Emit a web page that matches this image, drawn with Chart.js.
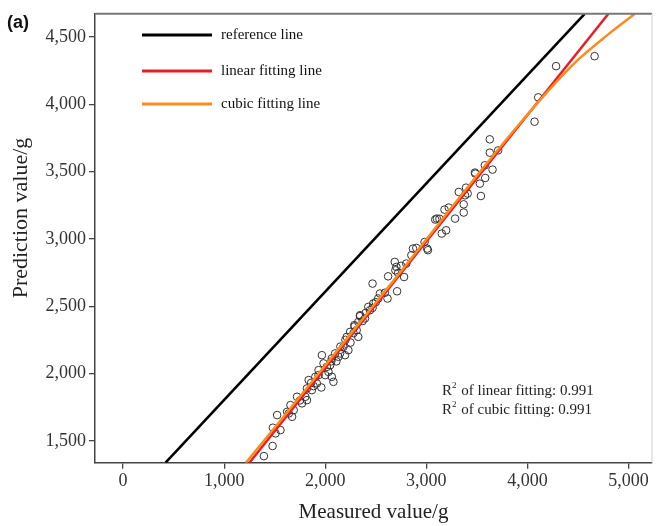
<!DOCTYPE html>
<html><head><meta charset="utf-8">
<script src="https://cdn.jsdelivr.net/npm/chart.js@4.4.1/dist/chart.umd.min.js"></script>
<style>html,body{margin:0;padding:0;background:#fff;}#wrap{width:657px;height:526px;position:relative;}</style>
</head><body><div id="wrap"><canvas id="c" width="657" height="526"></canvas></div>
<script>
// ---- data ----
const measuredValues = [1393,1479,1482,1508,1524,1557,1623,1639,1656,1672,1688,1721,1770,1803,1819,1819,1836,1868,1885,1902,
  1917,1934,1934,1961,1967,1983,2000,2016,2032,2049,2065,2065,2081,2098,2131,2147,2180,2196,2213,2229,
  2246,2288,2311,2327,2327,2344,2344,2393,2426,2442,2468,2468,2475,2524,2541,2616,2622,2688,2694,2704,
  2711,2721,2780,2802,2852,2868,2901,2983,3009,3016,3088,3104,3153,3180,3196,3222,3285,3321,3370,3370,
  3383,3393,3409,3485,3481,3530,3540,3579,3583,3628,3628,3655,3711,4071,4107,4284,4665,
  1750,2060,2110,2150,2200,2250,2280,2370,2400,2500,2590,2750,3130,1860,2290];
const predictedValues = [1386,1461,1597,1555,1691,1579,1715,1703,1765,1678,1728,1827,1778,1827,1802,1889,1951,1876,1906,1975,
  1926,2025,1988,1896,2136,2075,1988,2049,2012,2062,2112,1975,1938,2149,2124,2149,2198,2136,2272,2173,
  2309,2359,2322,2383,2272,2433,2426,2409,2495,2470,2487,2668,2520,2557,2594,2557,2722,2829,2767,2792,
  2611,2747,2717,2817,2879,2928,2933,2977,2928,2916,3144,3151,3040,3218,3064,3233,3151,3349,3257,3196,
  3324,3381,3337,3485,3493,3411,3319,3547,3453,3740,3641,3515,3658,3871,4052,4284,4358,
  1800,2090,2090,2200,2250,2230,2300,2390,2450,2530,2600,2800,3150,1930,2350];
const referenceLineX = [420, 4567];
const referenceLineY = [1337, 4673];
const linearFitX = [1250, 4802];
const linearFitY = [1337, 4673];
const cubicFitX = [1215, 1600, 2000, 2500, 3000, 3500, 3900, 4200, 4500, 4800, 5064];
const cubicFitY = [1337, 1690, 2060, 2525, 2995, 3470, 3835, 4095, 4330, 4520, 4673];
const xTickValues = [0, 1000, 2000, 3000, 4000, 5000];
const yTickValues = [1500, 2000, 2500, 3000, 3500, 4000, 4500];
const seriesLabels = ['reference line', 'linear fitting line', 'cubic fitting line'];
const xTitle = 'Measured value/g';
const yTitle = 'Prediction value/g';
const fitNames = ['linear', 'cubic'];
const fitR2 = ['0.991', '0.991'];
const xRange = [-278, 5233];
const yRange = [1337, 4673];

const pts = (xs, ys) => xs.map((x, i) => ({x: x, y: ys[i]}));
const SERIF = '"Liberation Serif", "Times New Roman", serif';

const framePlugin = {
  id: 'frame',
  afterDraw(chart) {
    const {ctx, chartArea: a} = chart;
    ctx.save();
    ctx.strokeStyle = '#777'; ctx.lineWidth = 2;
    ctx.beginPath(); ctx.moveTo(a.left, a.top); ctx.lineTo(a.right, a.top); ctx.stroke();
    ctx.strokeStyle = '#d0d0d0'; ctx.lineWidth = 1;
    ctx.beginPath(); ctx.moveTo(a.right, a.top); ctx.lineTo(a.right, a.bottom); ctx.stroke();
    // panel letter
    ctx.fillStyle = '#111'; ctx.font = 'bold 18px "Liberation Sans", Arial, sans-serif';
    ctx.textBaseline = 'middle'; ctx.textAlign = 'left';
    ctx.fillText('(a)', 7, 23);
    // y axis title
    ctx.save();
    ctx.translate(21, 218); ctx.rotate(-Math.PI / 2);
    ctx.textAlign = 'center'; ctx.fillStyle = '#222';
    ctx.font = '22px ' + SERIF;
    ctx.fillText(yTitle, 0, 0);
    ctx.restore();
    // legend
    const order = [2, 1, 0];
    const legY = [35, 71, 104];
    ctx.font = '15px ' + SERIF;
    order.forEach((di, k) => {
      const ds = chart.data.datasets[di];
      ctx.strokeStyle = ds.borderColor; ctx.lineWidth = 3;
      ctx.beginPath(); ctx.moveTo(142, legY[k]); ctx.lineTo(212, legY[k]); ctx.stroke();
      ctx.fillStyle = '#111';
      ctx.fillText(ds.label, 221, legY[k]);
    });
    // R^2 annotation
    const ys = [391, 410];
    fitNames.forEach((n, k) => {
      let x = 442;
      ctx.font = '15px ' + SERIF; ctx.fillStyle = '#222';
      ctx.fillText('R', x, ys[k]);
      x += ctx.measureText('R').width;
      ctx.font = '9px ' + SERIF;
      ctx.fillText('2', x, ys[k] - 5);
      x += ctx.measureText('2').width + 1;
      ctx.font = '15px ' + SERIF;
      ctx.fillText(' of ' + n + ' fitting: ' + fitR2[k], x, ys[k]);
    });
    ctx.restore();
  }
};

const axisCommon = {
  type: 'linear',
  grid: {display: true, drawOnChartArea: false, drawTicks: true, tickLength: 6, color: '#444', lineWidth: 1.3},
  border: {display: true, color: '#444', width: 1.5},
};

new Chart(document.getElementById('c').getContext('2d'), {
  type: 'scatter',
  data: {
    datasets: [
      {label: seriesLabels[2], data: pts(cubicFitX, cubicFitY), showLine: true, borderColor: '#ff8a1c', borderWidth: 2.5,
        pointRadius: 0, tension: 0.35, order: 1},
      {label: seriesLabels[1], data: pts(linearFitX, linearFitY), showLine: true, borderColor: '#ec1c24', borderWidth: 2.5,
        pointRadius: 0, order: 2},
      {label: seriesLabels[0], data: pts(referenceLineX, referenceLineY), showLine: true, borderColor: '#000', borderWidth: 2.5,
        pointRadius: 0, order: 3},
      {label: 'samples', data: pts(measuredValues, predictedValues), pointRadius: 3.8, pointBorderColor: '#333',
        pointBackgroundColor: 'rgba(0,0,0,0)', pointBorderWidth: 1, order: 4}
    ]
  },
  options: {
    responsive: false, animation: false, devicePixelRatio: 1,
    layout: {padding: {top: 13, right: 1.5, bottom: 0, left: 0}},
    plugins: {legend: {display: false}, tooltip: {enabled: false}},
    scales: {
      x: Object.assign({}, axisCommon, {
        min: xRange[0], max: xRange[1],
        afterBuildTicks: s => { s.ticks = xTickValues.map(v => ({value: v})); },
        afterFit: s => { s.height = 63.3; },
        ticks: {color: '#333', font: {family: SERIF, size: 18}, padding: 2, maxRotation: 0, autoSkip: false,
          callback: v => v.toLocaleString('en-US')},
        title: {display: true, text: xTitle, color: '#222', font: {family: SERIF, size: 21}, padding: {top: 0, bottom: 1}}
      }),
      y: Object.assign({}, axisCommon, {
        min: yRange[0], max: yRange[1],
        afterBuildTicks: s => { s.ticks = yTickValues.map(v => ({value: v})); },
        afterFit: s => { s.width = 95; },
        ticks: {color: '#333', font: {family: SERIF, size: 18}, padding: 3, autoSkip: false,
          callback: v => v.toLocaleString('en-US')},
        title: {display: false}
      })
    }
  },
  plugins: [framePlugin]
});
</script></body></html>
